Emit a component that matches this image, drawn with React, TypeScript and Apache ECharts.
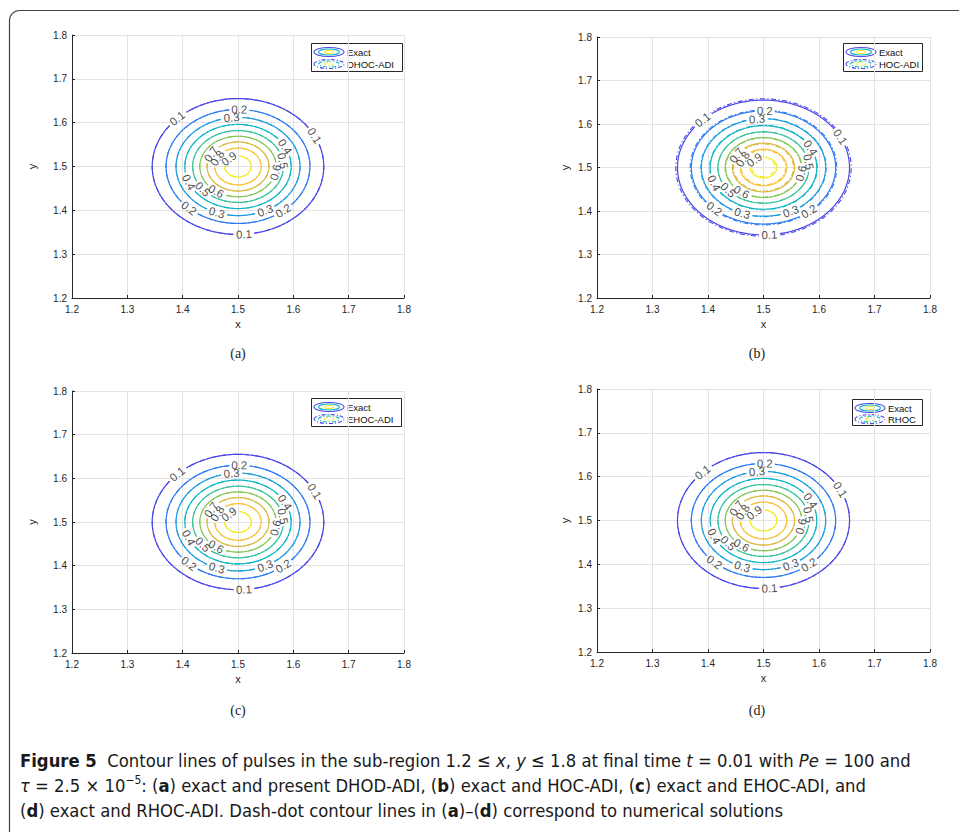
import React, { useEffect, useRef } from "react";
import * as echarts from "echarts";

// ---- data ----
const contourLevels = [0.1, 0.2, 0.3, 0.4, 0.5, 0.6, 0.7, 0.8, 0.9];
const levelColors = ["#4b47e8", "#2f7af2", "#1d9de0", "#0fb6c6", "#38c39d", "#86c75a", "#dbb93f", "#f9c236", "#f2ea1e"];
// radius (in x/y units) of each level curve, per solution
const exactRadii = [0.155, 0.13, 0.112, 0.096, 0.082, 0.069, 0.056, 0.042, 0.024];
const dhocAdiRadii = [0.155, 0.13, 0.112, 0.096, 0.082, 0.069, 0.056, 0.042, 0.024];
const hocAdiRadii = [0.158, 0.132, 0.113, 0.097, 0.082, 0.068, 0.054, 0.04, 0.021];
const ehocAdiRadii = [0.155, 0.13, 0.112, 0.096, 0.082, 0.069, 0.056, 0.042, 0.024];
const rhocAdiRadii = [0.155, 0.13, 0.112, 0.096, 0.082, 0.069, 0.056, 0.042, 0.024];
const pulseCenter = [1.5, 1.5];
// where the inline level labels sit on each curve (degrees, counter-clockwise from +x)
const labelAngles = [[135, 27, -86], [89, -133, -51], [96, -110, -64], [28, -158], [9, -141], [-11, -125], [150], [153], [133]];
const axisTicks = [1.2, 1.3, 1.4, 1.5, 1.6, 1.7, 1.8];
const exactName = "Exact";
const methodNames = ["DHOC-ADI", "HOC-ADI", "EHOC-ADI", "RHOC"];
const panelTags = ["(a)", "(b)", "(c)", "(d)"];
const methodRadii = [dhocAdiRadii, hocAdiRadii, ehocAdiRadii, rhocAdiRadii];

// ---- layout ----
const panels = [
  { left: 72, top: 35, width: 332, height: 263, yGap: 35, legend: { x: 311, y: 43, w: 91, h: 28 }, tag: { x: 238, y: 353 } },
  { left: 597, top: 37, width: 333, height: 261, yGap: 27, legend: { x: 843, y: 43, w: 79, h: 28 }, tag: { x: 757, y: 353 } },
  { left: 72, top: 391, width: 332, height: 262, yGap: 35, legend: { x: 311, y: 398, w: 90, h: 28 }, tag: { x: 238, y: 710 } },
  { left: 597, top: 389, width: 333, height: 263, yGap: 27, legend: { x: 852, y: 399, w: 70, h: 26 }, tag: { x: 757, y: 710 } },
];

const SANS = "'Liberation Sans', Arial, Helvetica, sans-serif";
const INK = "#262626";

function levelSegments(r: number, angles: number[], pxX: number, pxY: number) {
  const n = 360;
  const keep: boolean[] = [];
  for (let d = 0; d < n; d++) {
    let ok = true;
    for (const a of angles) {
      const ta = (a * Math.PI) / 180;
      const speed = Math.hypot(r * pxX * Math.sin(ta), r * pxY * Math.cos(ta));
      const half = 10 / speed;
      const diff = (Math.abs((((d - a) % 360) + 540) % 360 - 180) * Math.PI) / 180;
      if (diff < half) ok = false;
    }
    keep.push(ok);
  }
  const pt = (d: number) => {
    const t = (d * Math.PI) / 180;
    return [pulseCenter[0] + r * Math.cos(t), pulseCenter[1] + r * Math.sin(t)];
  };
  const segs: number[][][] = [];
  const start = keep.indexOf(false);
  if (start < 0) {
    const loop: number[][] = [];
    for (let d = 0; d <= n; d++) loop.push(pt(d));
    segs.push(loop);
    return segs;
  }
  let cur: number[][] | null = null;
  for (let k = 1; k <= n; k++) {
    const idx = (start + k) % n;
    if (keep[idx]) {
      if (!cur) cur = [];
      cur.push(pt(idx));
    } else if (cur) {
      segs.push(cur);
      cur = null;
    }
  }
  if (cur) segs.push(cur);
  return segs;
}

function buildOption() {
  const grid: any[] = [];
  const xAxis: any[] = [];
  const yAxis: any[] = [];
  const series: any[] = [];
  const graphic: any[] = [];

  panels.forEach((p, i) => {
    const span = axisTicks[axisTicks.length - 1] - axisTicks[0];
    const pxX = p.width / span;
    const pxY = p.height / span;
    grid.push({ left: p.left, top: p.top, width: p.width, height: p.height, containLabel: false });
    const axisCommon = {
      gridIndex: i,
      type: "value",
      min: axisTicks[0],
      max: axisTicks[axisTicks.length - 1],
      interval: axisTicks[1] - axisTicks[0],
      axisLine: { show: true, onZero: false, lineStyle: { color: INK, width: 1 } },
      axisTick: { show: true, inside: true, length: 3, lineStyle: { color: INK } },
      splitLine: { show: true, lineStyle: { color: "#e3e3e3", width: 1 } },
      axisLabel: { color: INK, fontSize: 10, fontFamily: SANS, formatter: (v: number) => v.toFixed(1) },
      nameLocation: "middle",
      nameTextStyle: { color: INK, fontSize: 11, fontFamily: SANS },
    };
    xAxis.push({ ...axisCommon, name: "x", nameGap: 20, axisLabel: { ...axisCommon.axisLabel, margin: 6 } });
    yAxis.push({ ...axisCommon, name: "y", nameGap: p.yGap, axisLabel: { ...axisCommon.axisLabel, margin: 5 } });

    const exactData: any[] = [];
    const methodData: any[] = [];
    const labelData: any[] = [];
    contourLevels.forEach((lv, k) => {
      const angles = labelAngles[k];
      levelSegments(exactRadii[k], angles, pxX, pxY).forEach((seg) =>
        exactData.push({ coords: seg, lineStyle: { color: levelColors[k] } })
      );
      levelSegments(methodRadii[i][k], angles, pxX, pxY).forEach((seg) =>
        methodData.push({ coords: seg, lineStyle: { color: levelColors[k] } })
      );
      angles.forEach((a) => {
        const t = (a * Math.PI) / 180;
        const r = exactRadii[k];
        const vx = -r * pxX * Math.sin(t);
        const vy = r * pxY * Math.cos(t);
        let rot = (Math.atan2(vy, vx) * 180) / Math.PI;
        if (rot > 90) rot -= 180;
        if (rot <= -90) rot += 180;
        labelData.push({
          value: [pulseCenter[0] + r * Math.cos(t), pulseCenter[1] + r * Math.sin(t)],
          label: { rotate: rot, formatter: lv.toFixed(1) },
        });
      });
    });

    series.push({
      type: "lines",
      coordinateSystem: "cartesian2d",
      xAxisIndex: i,
      yAxisIndex: i,
      polyline: true,
      silent: true,
      lineStyle: { width: 1.2, opacity: 1 },
      data: exactData,
      z: 3,
    });
    series.push({
      type: "lines",
      coordinateSystem: "cartesian2d",
      xAxisIndex: i,
      yAxisIndex: i,
      polyline: true,
      silent: true,
      lineStyle: { width: 1.1, opacity: 1, type: [5, 2.5, 1.2, 2.5] },
      data: methodData,
      z: 4,
    });
    series.push({
      type: "scatter",
      xAxisIndex: i,
      yAxisIndex: i,
      silent: true,
      symbolSize: 1,
      itemStyle: { color: "rgba(0,0,0,0)" },
      label: { show: true, position: "inside", color: "#1a1a1a", fontSize: 11.5, fontFamily: SANS },
      data: labelData,
      z: 5,
    });

    // legend box with miniature contour icons
    const L = p.legend;
    const rows = [exactName, methodNames[i]];
    const iconRings = [
      { rx: 15, ry: 4.5, c: levelColors[0] },
      { rx: 10.5, ry: 3, c: levelColors[3] },
      { rx: 4.5, ry: 1.5, c: levelColors[8] },
    ];
    const children: any[] = [
      { type: "rect", shape: { x: L.x + 0.5, y: L.y + 0.5, width: L.w, height: L.h }, style: { fill: "#fff", stroke: INK, lineWidth: 1 } },
    ];
    rows.forEach((txt, k) => {
      const cy = L.y + 9 + k * 12 * (L.h / 28);
      iconRings.forEach((ring) =>
        children.push({
          type: "ellipse",
          shape: { cx: L.x + 18, cy, rx: ring.rx, ry: ring.ry },
          style: { fill: "none", stroke: ring.c, lineWidth: 1.1, lineDash: k === 1 ? [4, 2, 1, 2] : null },
        })
      );
      children.push({
        type: "text",
        x: L.x + 36,
        y: cy,
        style: { text: txt, fontSize: 9.5, fontFamily: SANS, fill: "#111", verticalAlign: "middle", align: "left" },
      });
    });
    graphic.push({ type: "group", children, z: 20 });
    graphic.push({
      type: "text",
      x: p.tag.x,
      y: p.tag.y,
      style: { text: panelTags[i], fontSize: 14, fontFamily: "'Liberation Serif', 'DejaVu Serif', serif", fill: "#222", align: "center", verticalAlign: "middle" },
    });
  });

  // outer frame
  graphic.push({
    type: "rect",
    shape: { x: 9.5, y: 10.5, width: 1000, height: 900, r: 10 },
    style: { fill: "none", stroke: "#444", lineWidth: 1.2 },
    z: 1,
  });

  const CAP = "'Liberation Sans Narrow', 'DejaVu Sans Condensed', 'Open Sans', sans-serif";
  const FS = 18.3;
  const capRich = {
    b: { fontWeight: "bold", fontSize: FS, fontFamily: CAP, fill: "#1a1a1a", lineHeight: 23 },
    i: { fontStyle: "italic", fontSize: FS, fontFamily: CAP, fill: "#1a1a1a", lineHeight: 23 },
    sup: { fontSize: 12, fontFamily: CAP, fill: "#1a1a1a", verticalAlign: "top", lineHeight: 23 },
  };
  const captionLines = [
    "{b|Figure 5}  Contour lines of pulses in the sub-region 1.2 \u2264 {i|x}, {i|y} \u2264 1.8 at final time {i|t} = 0.01 with {i|Pe} = 100 and",
    "{i|\u03c4} = 2.5 \u00d7 10{sup|\u22125}: ({b|a}) exact and present DHOD-ADI, ({b|b}) exact and HOC-ADI, ({b|c}) exact and EHOC-ADI, and",
    "({b|d}) exact and RHOC-ADI. Dash-dot contour lines in ({b|a})\u2013({b|d}) correspond to numerical solutions",
  ];
  captionLines.forEach((line, k) => {
    graphic.push({
      type: "text",
      x: 20,
      y: 760 + k * 25,
      style: {
        text: line,
        rich: capRich,
        fontSize: FS,
        fontFamily: CAP,
        fill: "#1a1a1a",
        lineHeight: 23,
        align: "left",
        verticalAlign: "middle",
      },
    });
  });

  return {
    animation: false,
    backgroundColor: "#ffffff",
    grid,
    xAxis,
    yAxis,
    series,
    graphic,
  };
}

export default function App() {
  const ref = useRef<HTMLDivElement>(null);
  useEffect(() => {
    if (!ref.current) return;
    const chart = echarts.init(ref.current, undefined, { renderer: "svg" });
    chart.setOption(buildOption() as any);
    return () => chart.dispose();
  }, []);
  return <div ref={ref} style={{ position: "fixed", left: 0, top: 0, width: 959, height: 832, background: "#fff" }} />;
}
